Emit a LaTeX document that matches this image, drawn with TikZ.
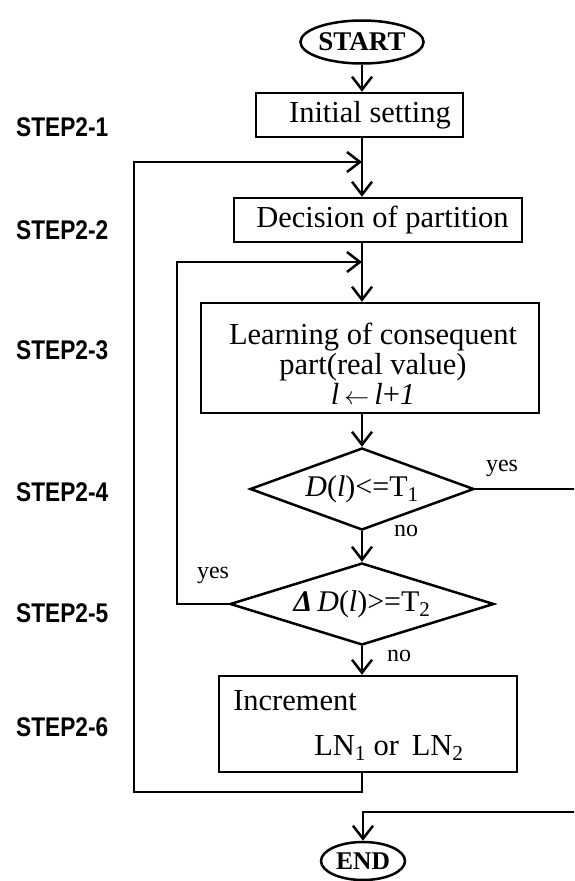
\documentclass[tikz,border=0pt]{standalone}
\usepackage{fontspec}
\setmainfont{Liberation Serif}
\newfontfamily\stepfont[FakeStretch=0.84]{Liberation Sans}
\usetikzlibrary{shapes.geometric,arrows.meta}
\begin{document}
\begin{tikzpicture}[x=1pt,y=-1pt,line width=2.5pt,
  arr/.style={-{Straight Barb[length=13pt,width=20pt]}},
  box/.style={draw,rectangle,inner sep=0pt,font=\fontsize{30.5}{30}\selectfont},
  term/.style={draw,ellipse,inner sep=0pt,font=\bfseries},
  dia/.style={draw,diamond,inner sep=0pt,font=\fontsize{30}{31}\selectfont},
  txt/.style={inner sep=0pt,font=\fontsize{30.5}{30}\selectfont},
  lbl/.style={inner sep=0pt,font=\fontsize{24}{26}\selectfont},
  steplbl/.style={anchor=west,inner sep=0pt,font=\stepfont\bfseries\fontsize{27}{29}\selectfont}]
\useasboundingbox (0,0) rectangle (574,881);
\clip (0,0) rectangle (574,881);

\coordinate (L) at (362,0);

% step labels
\node[steplbl] (s1) at (15,127) {STEP2-1};
\node[steplbl] (s2) at (15,230) {STEP2-2};
\node[steplbl] (s3) at (15,350) {STEP2-3};
\node[steplbl] (s4) at (15,492) {STEP2-4};
\node[steplbl] (s5) at (15,613) {STEP2-5};
\node[steplbl] (s6) at (15,727) {STEP2-6};

% nodes
\node[term,minimum width=105pt,minimum height=43pt,font=\fontsize{27}{28}\selectfont\bfseries] (start) at (362,42) {START};
\node[box,minimum width=207pt,minimum height=44pt] (init) at (359.5,115) {\hspace*{21pt}Initial setting};
\node[box,minimum width=288pt,minimum height=44pt] (dec) at (378,220) {\hspace*{9pt}Decision of partition};
\node[box,minimum width=338pt,minimum height=110pt] (learn) at (370,358) {};
\node[txt,align=center] (learnt) at (373,364)
  {Learning of consequent\\part(real value)\\\textit{l}\,{\fontsize{38}{38}\selectfont$\leftarrow$}\,\textit{l}+\textit{1}};
\node[dia,shape aspect=2.73,minimum width=224pt,minimum height=82pt] (d1) at (362,489)
  {\textit{D}(\textit{l})<=T\textsubscript{1}};
\node[dia,shape aspect=3.22,minimum width=264pt,minimum height=82pt] (d2) at (362,604)
  {\textbf{\textit{Δ}}\,\textit{D}(\textit{l})>=T\textsubscript{2}};
\node[box,minimum width=298pt,minimum height=96pt] (inc) at (368,724) {};
\node[txt,anchor=west] (inc1) at (232,701) {Increment};
\node[txt,anchor=west] (inc2) at (313,748) {LN\textsubscript{1} or\, LN\textsubscript{2}};
\node[term,minimum width=84pt,minimum height=38pt,font=\fontsize{25.5}{27}\selectfont\bfseries] (end) at (363,861) {END};

% labels
\node[lbl] (y1) at (502,468) {yes};
\node[lbl] (n1) at (406,531) {no};
\node[lbl] (y2) at (213,575) {yes};
\node[lbl] (n2) at (399,656) {no};

% helper coordinates
\coordinate (j1) at (362,162);
\coordinate (j2) at (362,262);
\coordinate (ob) at (134,792);
\coordinate (ib) at (177,604);
\coordinate (rx) at (590,812);
\coordinate (ej) at (363,812);

% main flow
\draw[arr] (start.south) -- (start.south |- init.north);
\draw[arr] (init.south -| L) -- (dec.north -| L);
\draw[arr] (dec.south -| L) -- (learn.north -| L);
\draw[arr] (learn.south -| L) -- (d1.north);
\draw[arr] (d1.south) -- (d2.north);
\draw[arr] (d2.south) -- (d2.south |- inc.north);

% loops
\draw[arr] (inc.south -| L) -- (L |- ob) -- (ob) -- (ob |- j1) -- (j1);
\draw[arr] (d2.west) -- (ib) -- (ib |- j2) -- (j2);

% yes to END
\draw[arr] (d1.east) -- (d1.east -| rx) -- (rx) -- (ej) -- (end.north);
\end{tikzpicture}
\end{document}
